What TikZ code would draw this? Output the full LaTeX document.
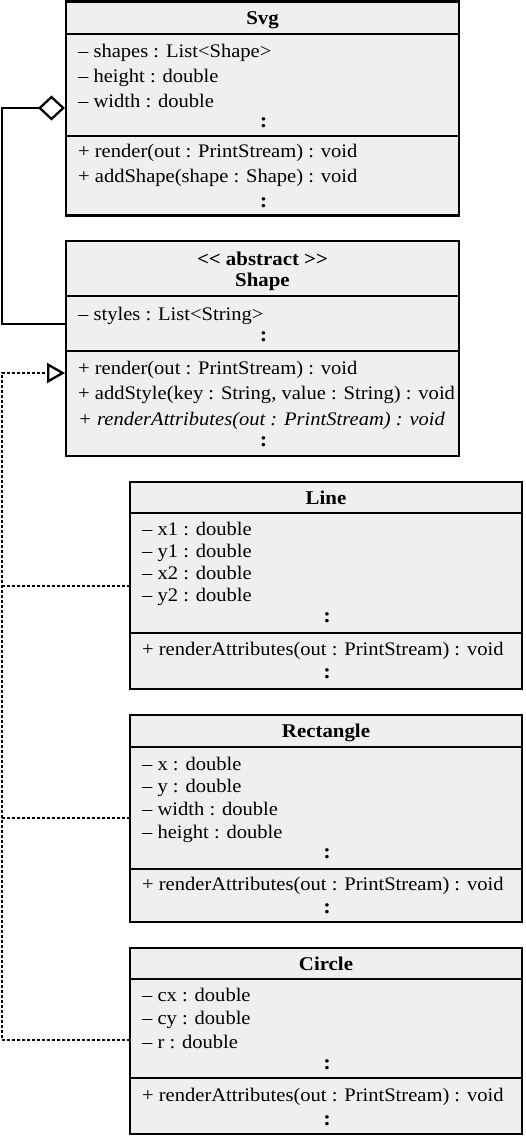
\documentclass[tikz,border=0pt]{standalone}
\usepackage{fontspec}
\newfontfamily\umlfont{Liberation Serif}[FakeStretch=1.07]
\usetikzlibrary{arrows.meta,calc}
\definecolor{boxgray}{HTML}{EFEFEF}
\begin{document}
\begin{tikzpicture}[x=1pt,y=-1pt,
  cls/.style={draw=black, line width=2.5pt, fill=boxgray, inner sep=0pt, outer sep=0pt, anchor=north west},
  mem/.style={anchor=base west, inner sep=0pt, font=\umlfont\fontsize{19.2pt}{22pt}\selectfont},
  ttl/.style={anchor=base, inner sep=0pt, font=\umlfont\bfseries\fontsize{19.5pt}{22pt}\selectfont},
  more/.style={anchor=base, inner sep=0pt, font=\umlfont\bfseries\fontsize{21pt}{22pt}\selectfont},
  sepline/.style={line width=2.3pt},
  agg/.style={line width=2.3pt, -{Diamond[open,length=27pt,width=25pt]}},
  real/.style={line width=2.3pt, dash pattern=on 3pt off 2pt, -{Triangle[open,length=18pt,width=20pt]}},
  realb/.style={line width=2.3pt, dash pattern=on 3pt off 2pt}]
\useasboundingbox (0,0) rectangle (526,1136);

% ---------- Svg ----------
\node[cls, minimum width=393pt, minimum height=214pt] (svg) at (66,1.5) {};
\draw[sepline] ($(svg.north west)+(0,32.5)$) -- ($(svg.north east)+(0,32.5)$);
\draw[sepline] ($(svg.north west)+(0,134.5)$) -- ($(svg.north east)+(0,134.5)$);
\node[ttl] (svgT) at (262.5,24) {Svg};
\node[mem] (svgA1) at (78,57) {– shapes : List<Shape>};
\node[mem] (svgA2) at (78,82) {– height : double};
\node[mem] (svgA3) at (78,107) {– width : double};
\node[more] (svgAd) at (263.5,127) {:};
\node[mem] (svgM1) at (78,157) {+ render(out : PrintStream) : void};
\node[mem] (svgM2) at (78,182) {+ addShape(shape : Shape) : void};
\node[more] (svgMd) at (263.5,207) {:};

% ---------- Shape ----------
\node[cls, minimum width=393pt, minimum height=215pt] (shape) at (66,241) {};
\draw[sepline] ($(shape.north west)+(0,55)$) -- ($(shape.north east)+(0,55)$);
\draw[sepline] ($(shape.north west)+(0,110)$) -- ($(shape.north east)+(0,110)$);
\node[ttl] (shpT1) at (262.5,265) {<< abstract >>};
\node[ttl] (shpT2) at (262.5,286) {Shape};
\node[mem] (shpA1) at (78,320) {– styles : List<String>};
\node[more] (shpAd) at (263.5,341) {:};
\node[mem] (shpM1) at (78,374) {+ render(out : PrintStream) : void};
\node[mem] (shpM2) at (78,399) {+ addStyle(key : String, value : String) : void};
\node[mem] (shpM3) at (78,425) {\itshape + renderAttributes(out : PrintStream) : void};
\node[more] (shpMd) at (263.5,446) {:};

% ---------- Line ----------
\node[cls, minimum width=392pt, minimum height=207pt] (line) at (130,482) {};
\draw[sepline] ($(line.north west)+(0,31)$) -- ($(line.north east)+(0,31)$);
\draw[sepline] ($(line.north west)+(0,151)$) -- ($(line.north east)+(0,151)$);
\node[ttl] (lnT) at (326,504) {Line};
\node[mem] (lnA1) at (142,535) {– x1 : double};
\node[mem] (lnA2) at (142,557) {– y1 : double};
\node[mem] (lnA3) at (142,579) {– x2 : double};
\node[mem] (lnA4) at (142,601) {– y2 : double};
\node[more] (lnAd) at (327,622) {:};
\node[mem] (lnM1) at (142,655) {+ renderAttributes(out : PrintStream) : void};
\node[more] (lnMd) at (327,678) {:};

% ---------- Rectangle ----------
\node[cls, minimum width=392pt, minimum height=207pt] (rect) at (130,715) {};
\draw[sepline] ($(rect.north west)+(0,32)$) -- ($(rect.north east)+(0,32)$);
\draw[sepline] ($(rect.north west)+(0,154)$) -- ($(rect.north east)+(0,154)$);
\node[ttl] (rcT) at (326,737) {Rectangle};
\node[mem] (rcA1) at (142,770) {– x : double};
\node[mem] (rcA2) at (142,792) {– y : double};
\node[mem] (rcA3) at (142,815) {– width : double};
\node[mem] (rcA4) at (142,838) {– height : double};
\node[more] (rcAd) at (327,858) {:};
\node[mem] (rcM1) at (142,890) {+ renderAttributes(out : PrintStream) : void};
\node[more] (rcMd) at (327,913) {:};

% ---------- Circle ----------
\node[cls, minimum width=392pt, minimum height=186pt] (circ) at (130,948) {};
\draw[sepline] ($(circ.north west)+(0,31)$) -- ($(circ.north east)+(0,31)$);
\draw[sepline] ($(circ.north west)+(0,130)$) -- ($(circ.north east)+(0,130)$);
\node[ttl] (ciT) at (326,970) {Circle};
\node[mem] (ciA1) at (142,1001) {– cx : double};
\node[mem] (ciA2) at (142,1024) {– cy : double};
\node[mem] (ciA3) at (142,1048) {– r : double};
\node[more] (ciAd) at (327,1069) {:};
\node[mem] (ciM1) at (142,1101) {+ renderAttributes(out : PrintStream) : void};
\node[more] (ciMd) at (327,1125) {:};

% ---------- connectors ----------
\coordinate (svgIn) at ($(svg.north west)+(-1,106.5)$);
\coordinate (shpOut) at ($(shape.north west)+(0,83)$);
\coordinate (aggLow) at (2,324);
\coordinate (aggHigh) at (2,108);
\draw[agg] (shpOut) -- (aggLow) -- (aggHigh) -- (svgIn);

\coordinate (shpIn) at ($(shape.north west)+(-1,132)$);
\coordinate (lnOut) at ($(line.north west)+(0,104)$);
\coordinate (rcOut) at ($(rect.north west)+(0,103)$);
\coordinate (ciOut) at ($(circ.north west)+(0,92)$);
\coordinate (realHigh) at (2,373);
\coordinate (realLow) at (2,1040);
\coordinate (lnJ) at (2,586);
\coordinate (rcJ) at (2,818);
\draw[real] (ciOut) -- (realLow) -- (realHigh) -- (shpIn);
\draw[realb] (lnOut) -- (lnJ);
\draw[realb] (rcOut) -- (rcJ);
\end{tikzpicture}
\end{document}
